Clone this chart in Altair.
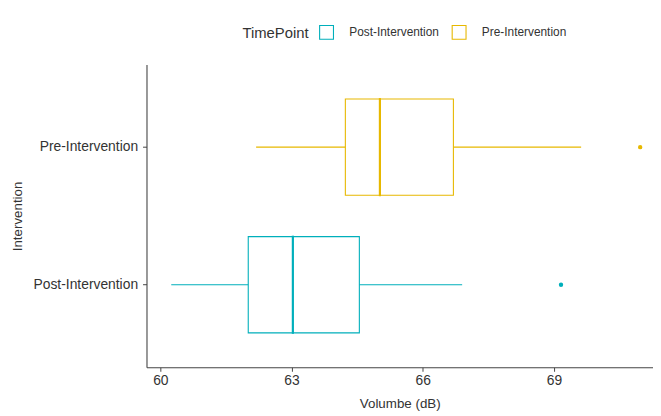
import altair as alt
import pandas as pd

# ---- data ----
groups = ["Pre-Intervention", "Post-Intervention"]
lower = [62.19, 60.25]
q1 = [64.23, 62.01]
median = [65.02, 63.03]
q3 = [66.70, 64.55]
upper = [69.62, 66.90]
outlier_group = ["Pre-Intervention", "Post-Intervention"]
outlier_value = [70.97, 69.16]

legend_order = ["Post-Intervention", "Pre-Intervention"]
palette = ["#00AFBB", "#E7B800"]
x_ticks = [60, 63, 66, 69]

stats = pd.DataFrame({"Intervention": groups, "TimePoint": groups, "lower": lower,
                      "q1": q1, "median": median, "q3": q3, "upper": upper})
outs = pd.DataFrame({"Intervention": outlier_group, "TimePoint": outlier_group,
                     "value": outlier_value})

FONT = "Liberation Sans"
TXT = "#333333"

xscale = alt.Scale(domain=[59.684, 71.263], nice=False, zero=False)
yscale = alt.Scale(domain=groups, paddingInner=0.3, paddingOuter=0.25)
cscale = alt.Scale(domain=legend_order, range=palette)

y_enc = alt.Y("Intervention:N", scale=yscale, sort=groups,
              axis=alt.Axis(title="Intervention", titleX=-130, titleY=153,
                            titleAngle=-90, titleAlign="center", titleBaseline="middle",
                            labelPadding=5))

x_axis = alt.Axis(values=x_ticks, title="Volumbe (dB)", titleY=37,
                  titleBaseline="middle", labelPadding=2, format="d")

stroke_enc = alt.Stroke(
    "TimePoint:N", scale=cscale,
    legend=alt.Legend(title="TimePoint", orient="none",
                      direction="horizontal", legendX=97, legendY=-41,
                      titleOrient="left", symbolType="square",
                      symbolSize=196, symbolFillColor="white",
                      symbolStrokeWidth=1.1, labelOffset=15,
                      columnPadding=10, titlePadding=10,
                      padding=0, values=legend_order))

whisk = alt.Chart(stats).mark_rule(strokeWidth=1.1).encode(
    x=alt.X("lower:Q", scale=xscale, axis=x_axis),
    x2="upper:Q",
    y=y_enc,
    stroke=stroke_enc,
)

box = alt.Chart(stats).mark_bar(fill="white", strokeWidth=1.1).encode(
    x=alt.X("q1:Q", scale=xscale),
    x2="q3:Q",
    y=y_enc,
    stroke=stroke_enc,
)

med = alt.Chart(stats).mark_tick(thickness=0.01, size=97, orient="vertical",
                                 strokeWidth=2.2, fillOpacity=0).encode(
    x=alt.X("median:Q", scale=xscale),
    y=y_enc,
    stroke=stroke_enc,
)

pts = alt.Chart(outs).mark_point(shape="circle", filled=False, size=5,
                                 strokeWidth=2.2, opacity=1).encode(
    x=alt.X("value:Q", scale=xscale),
    y=y_enc,
    stroke=stroke_enc,
)

chart = alt.layer(whisk, box, med, pts).properties(
    width=512, height=306,
    autosize=alt.AutoSizeParams(type="none"),
    padding={"left": 140, "top": 55, "right": 0, "bottom": 46},
).configure_view(stroke=None).configure_axis(
    grid=False, domainColor="#444444", domainWidth=1.1, tickColor="#444444",
    tickSize=4, labelFont=FONT, labelFontSize=14, labelColor=TXT,
    titleFont=FONT, titleFontSize=13.5, titleColor=TXT, titleFontWeight="normal",
).configure_legend(
    titleFont=FONT, titleFontSize=15, titleColor=TXT, titleFontWeight="normal",
    labelFont=FONT, labelFontSize=12, labelColor=TXT,
)

chart.save("out.html", embed_options={"renderer": "svg", "actions": False})
